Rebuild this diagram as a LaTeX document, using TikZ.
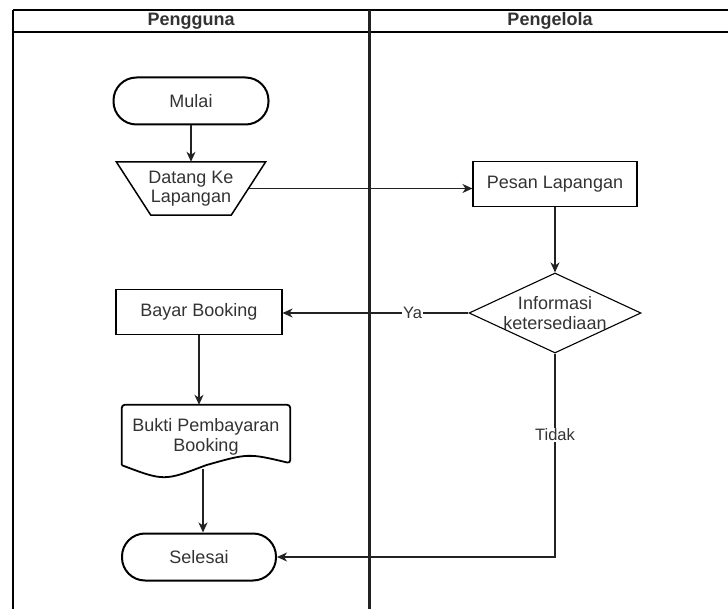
\documentclass[tikz,border=0pt]{standalone}
\usepackage{fontspec}
\setmainfont{Liberation Sans}
\usetikzlibrary{shapes.geometric}
\usetikzlibrary{arrows.meta}
\definecolor{teks}{HTML}{333333}
\definecolor{garis}{HTML}{222222}

\begin{document}
\begin{tikzpicture}[x=1pt,y=-1pt,font=\fontsize{18}{19.5}\selectfont,text=teks,
  terminal/.style={rectangle,draw=black,line width=2pt,rounded corners=23pt,minimum width=155pt,minimum height=47pt},
  proses/.style={rectangle,draw=black,line width=1.1pt,minimum height=45pt},
  panah/.style={draw=garis,line width=1.3pt,-{Stealth[length=10pt,width=9pt,inset=3pt]}},
  ket/.style={fill=white,inner sep=1pt,font=\fontsize{16.5}{18}\selectfont}]
\useasboundingbox (0,0) rectangle (728,609);
% swimlane
\draw[line width=1.5pt] (13,10) -- (728,10) (13,32) -- (728,32);
\draw[line width=2pt] (13,10) -- (13,609);
\draw[garis,line width=3pt] (369,10) -- (369,609);
\path (191,21) node(pengguna)[font=\fontsize{18}{19.5}\selectfont\bfseries]{Pengguna}
(550,21) node(pengelola)[font=\fontsize{18}{19.5}\selectfont\bfseries]{Pengelola};

\path (191,101) node(mulai)[terminal]{Mulai}
(191,188.5) node(datang)[minimum width=149pt,minimum height=53pt,align=center]{Datang Ke\\Lapangan}
(555,184) node(pesan)[proses,minimum width=164pt]{Pesan Lapangan}
(555,313) node(info)[diamond,draw=black,line width=1.1pt,aspect=2.15,inner sep=-6pt,minimum width=172pt,minimum height=80pt,align=center]{Informasi\\ketersediaan}
(199,312) node(bayar)[proses,minimum width=166pt]{Bayar Booking}
(206,437) node(bukti)[minimum width=168pt,minimum height=64pt,align=center]{Bukti Pembayaran\\Booking}
(199,557) node(selesai)[terminal,minimum width=154pt]{Selesai};
% bentuk input manual dan dokumen
\draw[line width=1.5pt] (datang.north west) -- (datang.north east) -- ([xshift=-34.5pt]datang.south east) -- ([xshift=34.5pt]datang.south west) -- cycle;
\draw[line width=1.8pt,rounded corners=3pt] ([yshift=4pt]bukti.south west) -- (bukti.north west) -- (bukti.north east) -- ([yshift=6pt]bukti.south east) [sharp corners] .. controls +(-42,-10) .. ([yshift=4pt]bukti.south) .. controls +(-42,16) .. ([yshift=4pt]bukti.south west);

\draw[panah](mulai)--(datang.north);
\draw[panah]([xshift=-17pt]datang.east)--(pesan.west |- datang.east);
\draw[panah](pesan)--(info);
\draw[panah](info.west)--(info.west -| bayar.east) node[ket,pos=0.3]{Ya};
\draw[panah](bayar)--(bayar |- bukti.north);
\draw[panah]([xshift=-3pt,yshift=0pt]bukti.south)--([xshift=-3pt]bukti.south |- selesai.north);
\draw[panah](info.south)|-(selesai.east) node[ket,pos=0.2]{Tidak};
\end{tikzpicture}
\end{document}
